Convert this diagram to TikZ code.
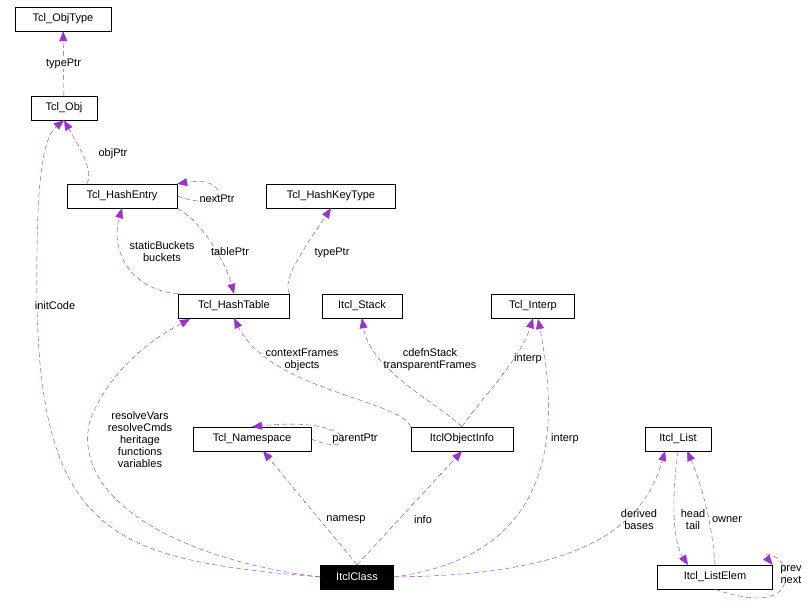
\documentclass[tikz,border=0pt]{standalone}
\usepackage{fontspec}
\setmainfont{Liberation Sans}
\usetikzlibrary{arrows.meta,positioning}
\definecolor{edgecol}{HTML}{9A32CD}
\tikzset{
  cls/.style={draw=black,fill=white,minimum height=24pt,inner sep=2pt,font=\fontsize{11}{12}\selectfont},
  uses/.style={draw=edgecol,dashed,dash pattern=on 5pt off 3pt,-{Triangle[length=10pt,width=8pt]},fill=none},
  lbl/.style={font=\fontsize{11}{12}\selectfont,align=center,inner sep=1pt}
}
\begin{document}
\begin{tikzpicture}[x=1pt,y=-1pt]
\useasboundingbox (0,0) rectangle (811,608);
% classes
\node[cls,minimum width=96pt] (objtype) at (63,19) {Tcl\_ObjType};
\node[cls,minimum width=66pt] (obj) at (64,108) {Tcl\_Obj};
\node[cls,minimum width=110pt] (hentry) at (122,196) {Tcl\_HashEntry};
\node[cls,minimum width=129pt] (hkey) at (331,196) {Tcl\_HashKeyType};
\node[cls,minimum width=111pt] (htable) at (234,306) {Tcl\_HashTable};
\node[cls,minimum width=80pt] (stack) at (362,306) {Itcl\_Stack};
\node[cls,minimum width=83pt] (interp) at (533,306) {Tcl\_Interp};
\node[cls,minimum width=118pt] (ns) at (252,439) {Tcl\_Namespace};
\node[cls,minimum width=102pt] (oinfo) at (462,439) {ItclObjectInfo};
\node[cls,minimum width=66pt] (list) at (678,439) {Itcl\_List};
\node[cls,minimum width=73pt,fill=black,text=white] (cls) at (357,577) {ItclClass};
\node[cls,minimum width=115pt] (elem) at (715,577) {Itcl\_ListElem};
% connectors
\draw[uses] (obj) -- node[lbl,fill=white]{typePtr} (objtype);
\draw[uses] (hentry.north west) ++(20,0) coordinate (he1) (he1) .. controls (95,170) and (75,140) .. (obj.south);
\node[lbl] at (113,154) {objPtr};
\draw[uses] (hentry.east) .. controls (230,215) and (230,175) .. (hentry.north east);
\node[lbl] at (217,199) {nextPtr};
\draw[uses] (htable.north west) .. controls (130,290) and (110,250) .. (hentry.south);
\node[lbl] at (162,252) {staticBuckets\\buckets};
\draw[uses] (hentry.south east) .. controls (200,220) and (225,260) .. (htable.north);
\node[lbl] at (230,252) {tablePtr};
\draw[uses] (htable.north east) .. controls (280,280) and (310,240) .. (hkey.south);
\node[lbl] at (332,253) {typePtr};
\draw[uses] (oinfo.north west) .. controls (400,400) and (270,390) .. (htable.south);
\node[lbl] at (302,360) {contextFrames\\objects};
\draw[uses] (oinfo.north) .. controls (440,405) and (370,370) .. (stack.south);
\node[lbl] at (430,360) {cdefnStack\\transparentFrames};
\draw[uses] (oinfo.north) .. controls (480,400) and (520,360) .. (interp.south);
\node[lbl] at (528,359) {interp};
\draw[uses] (cls.west) .. controls (120,560) and (40,540) .. (37,300) .. controls (36,200) and (40,140) .. (obj.south);
\node[lbl] at (55,306) {initCode};
\draw[uses] (cls.west) .. controls (180,560) and (70,500) .. (90,420) .. controls (110,370) and (150,340) .. (190,319);
\node[lbl] at (140,440) {resolveVars\\resolveCmds\\heritage\\functions\\variables};
\draw[uses] (cls.north) -- (263,451);
\node[lbl] at (346,520) {namesp};
\draw[uses] (ns.east) .. controls (360,460) and (360,415) .. (ns.north);
\node[lbl] at (355,439) {parentPtr};
\draw[uses] (cls.north) -- (oinfo.south);
\node[lbl] at (423,520) {info};
\draw[uses] (cls.east) .. controls (520,560) and (570,480) .. (538,319);
\node[lbl] at (565,439) {interp};
\draw[uses] (cls.east) .. controls (560,575) and (640,540) .. (665,451);
\node[lbl] at (639,520) {derived\\bases};
\draw[uses] (list.south) .. controls (670,510) and (675,545) .. (688,565);
\node[lbl] at (693,520) {head\\tail};
\draw[uses] (elem.north) .. controls (712,520) and (700,480) .. (687,451);
\node[lbl] at (727,520) {owner};
\draw[uses] (elem.south) .. controls (760,605) and (790,600) .. (785,570) .. controls (782,555) and (760,550) .. (elem.north east);
\node[lbl] at (791,575) {prev\\next};
\end{tikzpicture}
\end{document}
